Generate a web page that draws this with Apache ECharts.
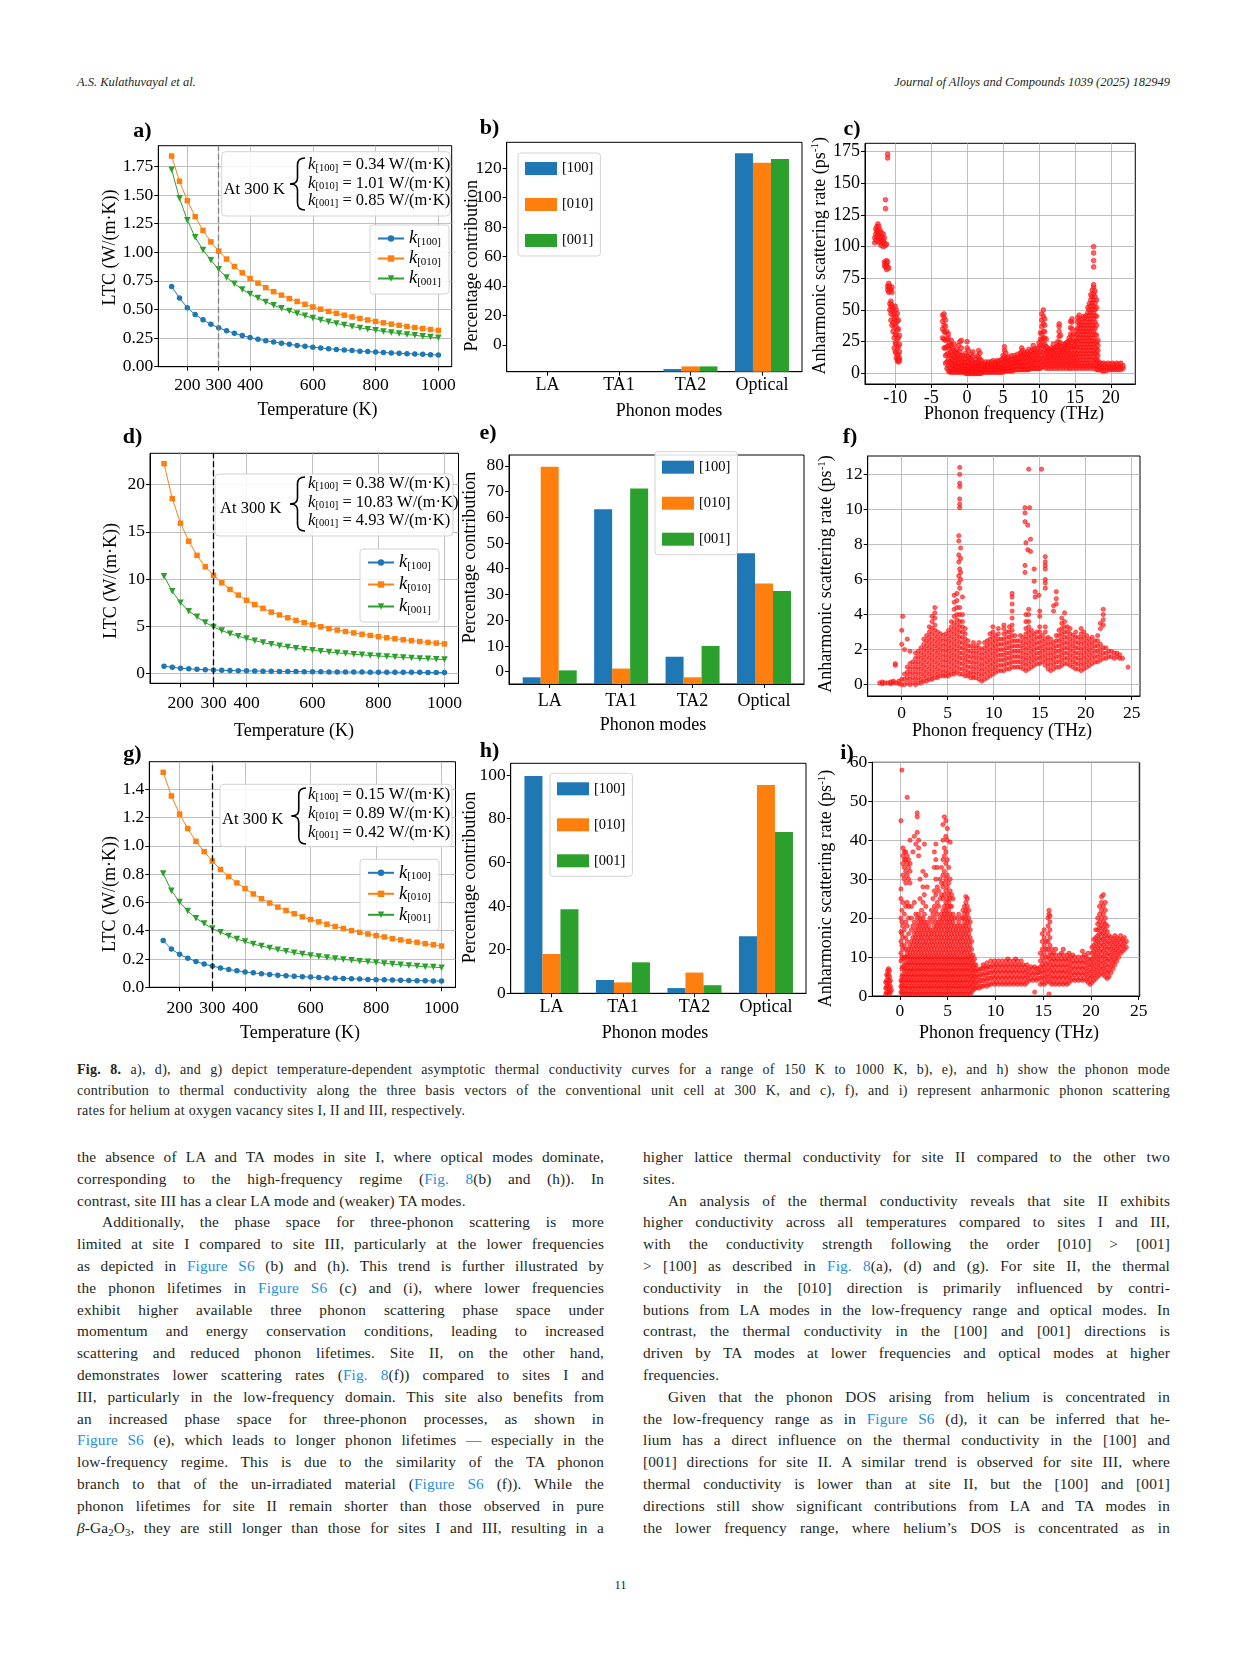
<!DOCTYPE html>
<html>
<head>
<meta charset="utf-8">
<script src="https://cdn.jsdelivr.net/npm/echarts@6/dist/echarts.min.js"></script>
<style>
html,body{margin:0;padding:0;background:#fff;}
#page{position:relative;width:1241px;height:1654px;overflow:hidden;font-family:'Liberation Serif','Times New Roman',serif;color:#231f20;}
#chart{position:absolute;left:0;top:0;width:1241px;height:1060px;}
.hdr{position:absolute;top:75px;font-style:italic;font-size:12.5px;}
.cap{position:absolute;left:77px;top:1060px;width:1093px;font-size:14px;letter-spacing:0.3px;}
.cap div{height:20.5px;line-height:20.5px;text-align:justify;text-align-last:justify;}
.col{position:absolute;top:1146px;width:527px;font-size:15.3px;letter-spacing:0.15px;}
.col div{height:21.8px;line-height:21.8px;text-align:justify;text-align-last:justify;}
.col div.last,.cap div.last{text-align-last:left;}
.col div.ind{text-indent:25px;}
a{color:#1f8fdc;text-decoration:none;}
sub{font-size:0.7em;vertical-align:-0.25em;line-height:0;}
</style>
</head>
<body>
<div id="page">
<div class="hdr" style="left:77px;">A.S. Kulathuvayal et al.</div>
<div class="hdr" style="right:71px;">Journal of Alloys and Compounds 1039 (2025) 182949</div>
<div id="chart"></div>
<div class="cap">
<div><b>Fig. 8.</b> a), d), and g) depict temperature-dependent asymptotic thermal conductivity curves for a range of 150 K to 1000 K, b), e), and h) show the phonon mode</div>
<div>contribution to thermal conductivity along the three basis vectors of the conventional unit cell at 300 K, and c), f), and i) represent anharmonic phonon scattering</div>
<div class="last">rates for helium at oxygen vacancy sites I, II and III, respectively.</div>
</div>
<div class="col" style="left:77px;">
<div>the absence of LA and TA modes in site I, where optical modes dominate,</div>
<div>corresponding to the high-frequency regime (<a>Fig. 8</a>(b) and (h)). In</div>
<div class="last">contrast, site III has a clear LA mode and (weaker) TA modes.</div>
<div class="ind">Additionally, the phase space for three-phonon scattering is more</div>
<div>limited at site I compared to site III, particularly at the lower frequencies</div>
<div>as depicted in <a>Figure S6</a> (b) and (h). This trend is further illustrated by</div>
<div>the phonon lifetimes in <a>Figure S6</a> (c) and (i), where lower frequencies</div>
<div>exhibit higher available three phonon scattering phase space under</div>
<div>momentum and energy conservation conditions, leading to increased</div>
<div>scattering and reduced phonon lifetimes. Site II, on the other hand,</div>
<div>demonstrates lower scattering rates (<a>Fig. 8</a>(f)) compared to sites I and</div>
<div>III, particularly in the low-frequency domain. This site also benefits from</div>
<div>an increased phase space for three-phonon processes, as shown in</div>
<div><a>Figure S6</a> (e), which leads to longer phonon lifetimes — especially in the</div>
<div>low-frequency regime. This is due to the similarity of the TA phonon</div>
<div>branch to that of the un-irradiated material (<a>Figure S6</a> (f)). While the</div>
<div>phonon lifetimes for site II remain shorter than those observed in pure</div>
<div><i>β</i>-Ga<sub>2</sub>O<sub>3</sub>, they are still longer than those for sites I and III, resulting in a</div>
</div>
<div class="col" style="left:643px;">
<div>higher lattice thermal conductivity for site II compared to the other two</div>
<div class="last">sites.</div>
<div class="ind">An analysis of the thermal conductivity reveals that site II exhibits</div>
<div>higher conductivity across all temperatures compared to sites I and III,</div>
<div>with the conductivity strength following the order [010] &gt; [001]</div>
<div>&gt; [100] as described in <a>Fig. 8</a>(a), (d) and (g). For site II, the thermal</div>
<div>conductivity in the [010] direction is primarily influenced by contri-</div>
<div>butions from LA modes in the low-frequency range and optical modes. In</div>
<div>contrast, the thermal conductivity in the [100] and [001] directions is</div>
<div>driven by TA modes at lower frequencies and optical modes at higher</div>
<div class="last">frequencies.</div>
<div class="ind">Given that the phonon DOS arising from helium is concentrated in</div>
<div>the low-frequency range as in <a>Figure S6</a> (d), it can be inferred that he-</div>
<div>lium has a direct influence on the thermal conductivity in the [100] and</div>
<div>[001] directions for site II. A similar trend is observed for site III, where</div>
<div>thermal conductivity is lower than at site II, but the [100] and [001]</div>
<div>directions still show significant contributions from LA and TA modes in</div>
<div>the lower frequency range, where helium’s DOS is concentrated as in</div>
</div>
<div style="position:absolute;left:0;width:1241px;top:1578px;text-align:center;font-size:12.5px;">11</div>
</div>
<script>
// ---------------- DATA ----------------
const T = [150,175,200,225,250,275,300,325,350,375,400,425,450,475,500,525,550,575,600,625,650,675,700,725,750,775,800,825,850,875,900,925,950,975,1000];
const TTicks = [200,300,400,600,800,1000];

const aK100 = [0.70,0.60,0.515,0.455,0.41,0.37,0.34,0.315,0.292,0.272,0.255,0.24,0.227,0.216,0.205,0.195,0.186,0.178,0.17,0.163,0.157,0.151,0.146,0.141,0.136,0.132,0.128,0.124,0.12,0.117,0.114,0.111,0.108,0.105,0.102];
const aK010 = [1.84,1.62,1.45,1.31,1.19,1.09,1.01,0.94,0.875,0.82,0.77,0.73,0.69,0.655,0.625,0.595,0.57,0.545,0.522,0.502,0.483,0.466,0.45,0.435,0.421,0.408,0.395,0.383,0.372,0.362,0.352,0.342,0.333,0.325,0.317];
const aK001 = [1.72,1.47,1.28,1.13,1.02,0.93,0.85,0.78,0.725,0.675,0.635,0.60,0.566,0.536,0.51,0.486,0.464,0.444,0.425,0.408,0.392,0.378,0.364,0.351,0.339,0.328,0.318,0.308,0.299,0.29,0.282,0.274,0.266,0.259,0.252];
const aYTicks = [0,0.25,0.5,0.75,1.0,1.25,1.5,1.75];
const aAt300 = ['0.34','1.01','0.85'];

const dK100 = [0.78,0.66,0.57,0.50,0.45,0.41,0.38,0.35,0.325,0.305,0.285,0.27,0.255,0.242,0.23,0.22,0.21,0.2,0.192,0.185,0.178,0.171,0.165,0.16,0.155,0.15,0.145,0.141,0.137,0.133,0.129,0.126,0.123,0.12,0.117];
const dK010 = [22.2,18.5,15.9,14.0,12.5,11.3,10.4,9.6,8.9,8.3,7.75,7.3,6.9,6.5,6.2,5.9,5.62,5.38,5.15,4.95,4.76,4.6,4.45,4.3,4.16,4.03,3.91,3.79,3.68,3.58,3.48,3.39,3.3,3.22,3.14];
const dK001 = [10.3,8.7,7.5,6.6,6.0,5.4,4.93,4.55,4.22,3.95,3.7,3.48,3.28,3.1,2.95,2.81,2.68,2.57,2.47,2.37,2.28,2.2,2.12,2.05,1.98,1.92,1.86,1.8,1.75,1.7,1.65,1.6,1.56,1.52,1.48];
const dYTicks = [0,5,10,15,20];
const dAt300 = ['0.38','10.83','4.93'];

const gK100 = [0.33,0.27,0.233,0.206,0.183,0.164,0.15,0.137,0.126,0.117,0.109,0.102,0.096,0.091,0.086,0.082,0.078,0.075,0.072,0.069,0.066,0.064,0.062,0.06,0.058,0.056,0.054,0.053,0.051,0.05,0.048,0.047,0.046,0.045,0.044];
const gK010 = [1.52,1.353,1.224,1.122,1.032,0.959,0.892,0.833,0.783,0.738,0.698,0.66,0.626,0.596,0.567,0.543,0.52,0.498,0.479,0.463,0.446,0.43,0.415,0.401,0.389,0.377,0.365,0.356,0.344,0.335,0.325,0.318,0.308,0.301,0.292];
const gK001 = [0.804,0.683,0.603,0.539,0.489,0.451,0.415,0.389,0.363,0.342,0.323,0.306,0.292,0.278,0.266,0.254,0.244,0.235,0.225,0.218,0.211,0.204,0.197,0.192,0.185,0.18,0.176,0.169,0.164,0.159,0.154,0.15,0.145,0.143,0.138];
const gYTicks = [0,0.2,0.4,0.6,0.8,1.0,1.2,1.4];
const gAt300 = ['0.15','0.89','0.42'];

const modes = ['LA','TA1','TA2','Optical'];
const dirs = ['[100]','[010]','[001]'];
// bar tops in the units of the printed axis labels
const b100 = [-18.3,-18.3,-16.5,130.0];
const b010 = [-18.3,-18.3,-14.7,123.6];
const b001 = [-18.3,-18.3,-14.7,126.1];
const bYTicks = [0,20,40,60,80,100,120];
const e100 = [-2.2,63.1,5.8,46.0];
const e010 = [79.6,1.2,-2.2,34.3];
const e001 = [0.5,71.2,10.0,31.3];
const eYTicks = [0,10,20,30,40,50,60,70,80];
const h100 = [99.6,6.1,2.4,26.2];
const h010 = [18.0,5.0,9.5,95.4];
const h001 = [38.5,14.2,3.7,73.9];
const hYTicks = [0,20,40,60,80,100];

const cXTicks = [-10,-5,0,5,10,15,20];
const cYTicks = [0,25,50,75,100,125,150,175];
const fXTicks = [0,5,10,15,20,25];
const fYTicks = [0,2,4,6,8,10,12];
const iXTicks = [0,5,10,15,20,25];
const iYTicks = [0,10,20,30,40,50,60];

// scattering rates: [frequency (THz), [rates (ps^-1) read at that frequency]]
const cCols = [
[-12.85,[103,107]],[-12.7,[105,110,114]],[-12.55,[108,112,116]],[-12.4,[104,109,113,118]],[-12.25,[107,111,116]],[-12.1,[103,108,113]],[-11.95,[101,106,111]],[-11.8,[104,108]],[-11.65,[100,105,110]],[-11.5,[103,107,85,88]],[-11.35,[101,130,137,84,87]],[-11.2,[102,82,86,89]],[-11.05,[170,173,84,88,66,69]],[-10.9,[83,64,68,71]],[-10.75,[65,69,55,50]],[-10.6,[66,53,57,47,42]],[-10.45,[64,68,50,54,38]],[-10.3,[52,46,40,33]],[-10.15,[49,43,36,28,20]],[-10.0,[53,46,39,31,24,17]],[-9.85,[50,44,37,30,23,16,12]],[-9.7,[47,41,34,27,20,14,10]],[-9.55,[42,35,28,21,15,11,9]],[-9.4,[30,23,17,12,10]],
[-3.4,[28,35,41,46]],[-3.2,[20,27,33,38,44,47]],[-3.0,[8,14,20,26,32,37,42]],[-2.8,[4,9,15,21,27,33]],[-2.6,[2,6,11,16,22,28,31]],[-2.4,[1,5,9,14,19,24]],[-2.2,[1,4,8,12,17,22,26]],[-2.0,[1,4,7,11,15,20]],[-1.8,[1,3,6,10,14,18,23]],[-1.6,[1,3,6,9,13,17]],[-1.4,[1,3,5,8,12,16,19]],[-1.2,[1,3,5,8,11,15,22]],[-1.0,[1,3,5,8,12,17,25]],[-0.8,[1,3,6,9,14,20,26]],[-0.6,[1,2,4,7,10,14]],[-0.4,[1,2,4,6,9,13]],[-0.2,[0,2,4,6,9,12,16]],
[0.0,[0,2,4,6,9,14,20,25]],[0.2,[0,2,4,6,9,13,18]],[0.4,[0,2,4,6,8,12]],[0.6,[0,2,4,6,8,11,15]],[0.8,[0,2,4,6,9,13,17]],[1.0,[0,2,4,6,8]],[1.2,[0,2,4,6,8,11]],[1.4,[0,2,4,6,9,14]],[1.6,[0,2,4,6,9,13,18]],[1.8,[0,2,4,6,8,11,16]],[2.0,[0,2,4,6,8,10]],[2.2,[1,2,4,6,8]],[2.4,[1,3,5,7]],[2.6,[1,3,5,7,9]],[2.8,[1,3,5,7]],[3.0,[1,3,5,7,9]],[3.2,[1,3,5,8]],[3.4,[1,3,5,7,9]],[3.6,[1,3,5,7,10]],[3.8,[1,3,5,8]],[4.0,[1,3,5,7,9]],[4.2,[1,3,5,8,10]],[4.4,[1,3,5,7,9]],[4.6,[1,3,5,7,10]],[4.8,[1,3,5,8,11]],
[5.0,[1,3,5,7,10,14]],[5.2,[2,4,6,9,13,18,21]],[5.4,[2,4,6,9,12,16]],[5.6,[2,4,6,9,12]],[5.8,[2,4,7,10,13]],[6.0,[2,4,7,10]],[6.2,[2,5,8,11,14]],[6.4,[2,5,8,11]],[6.6,[3,5,8,11,14]],[6.8,[3,6,9,12]],[7.0,[3,6,9,12,15]],[7.2,[3,6,9,13]],[7.4,[3,6,9,12,16]],[7.6,[3,6,9,13,17,20]],[7.8,[3,6,10,14,18]],[8.0,[3,6,9,13,16]],[8.2,[3,6,9,12,15]],[8.4,[3,6,10,14,17]],[8.6,[3,7,11,15,19]],[8.8,[4,7,11,15]],[9.0,[4,7,10,14,18]],[9.2,[4,7,11,15,19,22]],[9.4,[4,8,12,16,19]],[9.6,[4,8,12,16]],[9.8,[4,8,12,16,20]],
[10.0,[4,8,12,16,20,24]],[10.2,[4,8,12,17,22,27,32]],[10.4,[5,9,14,20,26,31,37,42,47]],[10.6,[7,11.5,16.5,22,27.5,33,39,45,50]],[10.8,[5,9,13,18,23,28,33,38,43]],[11.0,[4,8,12,16,21,27]],[11.2,[6,10,14,18,20]],[11.4,[4,8,12,15,19]],[11.6,[6,10,14,18]],[11.8,[4,8,12,16,20]],[12.0,[6,10,14,17,19,23]],[12.2,[4,8,12,16,20]],[12.4,[6,10,14,18,21]],[12.6,[4,8,12,16,21,25]],[12.8,[6,10,14,18,22,24,29,33,37,39]],[13.0,[4,8,12,16,20,24,30]],[13.2,[6,10,14,18,21]],[13.4,[4,8,12,16,19]],[13.6,[6,10,14,18,22,23]],[13.8,[4,8,12,16,20,24]],[14.0,[6,10,14,18,22,25]],[14.2,[4,8,12,16,20,24,28]],[14.4,[4,8,12,16,21,26,31,36,41]],[14.6,[6,10,14.5,19.5,24.5,29.5,35,40.5,43]],[14.8,[4,8,12,16,21,26,31]],
[15.0,[6,10,14,18,22,25]],[15.2,[4,8,12,16,21,26,30,34]],[15.4,[6,10.5,15.5,20.5,25.5,30.5,35.5,40.5,44]],[15.6,[4,8,13,18,23,28,33,38,42,46]],[15.8,[6,10.5,15.5,20.5,25.5,30.5,35.5,39]],[16.0,[4,8,13,18,23,28,33,38,43]],[16.2,[6,10.5,15.5,20.5,25.5,30.5,35.5,40.5,45]],[16.4,[4,8,13,18,23,28,33,38,44]],[16.6,[6,10.5,15.5,20.5,25.5,30.5,35.5,40.5,45.5]],[16.8,[4,8,13,18,23,28,33,38,43,48,52]],[17.0,[6,10.5,15.5,20.5,25.5,30.5,35.5,40.5,45.5,50.5,55]],[17.2,[4,8,13,18,23,28,33,38,43,48,53,58,62]],[17.4,[6,10.5,15.5,20.5,25.5,30.5,35.5,40.5,45.5,50.5,55.5,60.5,65.5]],[17.6,[4,8,13,18,23,28,33,38,43,48,53,58,63,68,70,84,89,95,100]],[17.8,[6,10.5,15.5,20.5,25.5,30.5,35.5,40.5,45.5,50.5,55.5,60.5,65]],[18.0,[3,7,11,15,19,24,30,38,45,52,58]],[18.2,[3,6,10,14,18,22,26]],
[18.4,[3,5,8]],[18.6,[3,5,8]],[18.8,[2,5,7]],[19.0,[2,5,8]],[19.3,[2,5,7]],[19.6,[3,5,8]],[19.9,[3,5,7]],[20.2,[3,5,8]],[20.5,[3,5,7]],[20.8,[3,6,8]],[21.1,[3,5,7]],[21.4,[3,5,8]],[21.7,[4,6]]
];

const fCols = [
[-2.4,[0.1]],[-2.1,[0.05,0.15]],[-1.8,[0.1]],[-1.5,[0.1]],[-1.2,[0.05,0.15]],[-0.9,[0.1,0.2]],[-0.7,[1.1,1.2]],[-0.6,[0.1]],[-0.3,[0.05,0.2]],
[0.0,[0.0,0.3,3.1,2.3]],[0.1,[3.9]],[0.3,[0.0,0.3,0.6,2.0]],[0.6,[0.1,0.4,0.7,1.0,2.6]],[0.9,[0.0,0.3,0.6,0.9,1.2,1.9]],[1.2,[0.1,0.4,0.7,1.0,1.3]],[1.5,[0.0,0.3,0.6,0.9,1.2,1.5,1.8]],[1.8,[0.1,0.4,0.7,1.0,1.3,1.6,1.9]],[2.1,[0.1,0.3,0.6,0.9,1.2,1.5,1.8,2.1]],[2.4,[0.2,0.5,0.8,1.1,1.4,1.7,2.0,2.3,2.6]],[2.7,[0.2,0.4,0.7,1.0,1.3,1.6,1.9,2.2,2.5,2.8]],
[3.0,[0.3,0.6,0.9,1.2,1.5,1.8,2.1,2.4,2.7,3.0,3.3]],[3.3,[0.3,0.5,0.8,1.1,1.4,1.7,2.0,2.3,2.6,2.9,3.2,3.6,3.9]],[3.6,[0.4,0.7,1.0,1.3,1.6,1.9,2.2,2.5,2.8,3.1,3.4,3.8,4.1,4.4]],[3.9,[0.4,0.6,0.9,1.2,1.5,1.8,2.1,2.4,2.7,3.0]],[4.2,[0.5,0.8,1.1,1.4,1.7,2.0,2.3,2.6,2.9]],[4.5,[0.5,0.7,1.0,1.3,1.6,1.9,2.2,2.5,2.8]],[4.8,[0.5,0.8,1.1,1.4,1.7,2.0,2.3,2.6,2.9]],
[5.1,[0.5,0.7,1.0,1.3,1.6,1.9,2.2,2.5,2.8,3.1]],[5.4,[0.6,0.9,1.2,1.5,1.8,2.1,2.4,2.7,3.0,3.3,3.6]],[5.7,[0.6,0.8,1.1,1.4,1.7,2.0,2.3,2.6,2.9,3.2,3.5,3.9,4.3,4.7,5.1]],[6.0,[0.7,1.0,1.3,1.6,1.9,2.2,2.5,2.8,3.1,3.4,3.7,4.0,4.4,4.8,5.2]],[6.2,[5.8,6.2,7.0,7.4,8.2,8.5]],[6.3,[0.6,0.9,1.2,1.5,1.8,2.1,2.4,2.7,3.0,3.3,3.6,4.0,4.4,5.5,6.6,10.1,10.3,10.6,11.3,11.5,12.0,12.4]],[6.4,[6.0,6.4,7.2,7.8]],[6.6,[0.6,0.9,1.2,1.5,1.8,2.1,2.4,2.7,3.0,3.3,3.6,4.0,5.0]],[6.9,[0.5,0.8,1.1,1.4,1.7,2.0,2.3,2.6,2.9,3.2]],
[7.2,[0.5,0.7,1.0,1.3,1.6,1.9,2.2,2.5]],[7.5,[0.4,0.7,1.0,1.3,1.6,1.9,2.2]],[7.8,[0.4,0.6,0.9,1.2,1.5,1.8,2.1,2.4]],[8.1,[0.4,0.7,1.0,1.3,1.6,1.9,2.2]],[8.4,[0.3,0.6,0.9,1.2,1.5,1.8,2.1,2.4]],[8.7,[0.2,0.5,0.8,1.1,1.4,1.7,2.0]],[9.0,[0.3,0.6,0.9,1.2,1.5,1.8,2.1,2.4]],[9.3,[0.4,0.7,1.0,1.3,1.6,1.9,2.2,2.5]],[9.6,[0.5,0.8,1.1,1.4,1.7,2.0,2.3,2.6,2.9]],[9.9,[0.6,0.9,1.2,1.5,1.8,2.1,2.4,2.7,3.0,3.3]],
[10.2,[0.7,1.0,1.3,1.6,1.9,2.2,2.5,2.8]],[10.5,[0.8,1.1,1.4,1.7,2.0,2.3,2.6,2.9,3.2]],[10.8,[0.8,1.1,1.4,1.7,2.0,2.3,2.6]],[11.1,[0.8,1.1,1.4,1.7,2.0,2.3,2.6,2.9,3.2,3.4]],[11.4,[0.9,1.2,1.5,1.8,2.1,2.4,2.7,3.0]],[11.7,[0.9,1.2,1.5,1.8,2.1,2.4,2.7,3.0,3.3]],[12.0,[1.0,1.3,1.6,1.9,2.2,2.5,2.8,3.1,3.4,3.8,4.2,4.6,5.0,5.2]],[12.3,[1.0,1.3,1.6,1.9,2.2,2.5,2.8]],[12.6,[1.0,1.3,1.6,1.9,2.2,2.5]],[12.9,[1.0,1.3,1.6,1.9,2.2,2.5,2.8]],
[13.2,[0.9,1.2,1.5,1.8,2.1,2.4,2.7]],[13.4,[6.4,6.8,9.3,9.8,10.1]],[13.5,[0.8,1.1,1.4,1.7,2.0,2.3,2.6,2.9,3.2,3.6,4.0,8.1]],[13.7,[7.7,9.1]],[13.8,[0.9,1.2,1.5,1.8,2.1,2.4,2.7,3.0,3.3,3.6,4.0,4.3,12.3]],[13.9,[10.1]],[14.0,[7.6,8.3]],[14.1,[1.0,1.3,1.6,1.9,2.2,2.5,2.8,3.1]],[14.4,[1.1,1.4,1.7,2.0,2.3,2.6,2.9,5.9,6.6]],[14.5,[5.0,5.3]],[14.7,[1.2,1.5,1.8,2.1,2.4,2.7,3.0]],[14.9,[5.1]],
[15.0,[1.2,1.5,1.8,2.1,2.4,2.7,3.0,3.3,3.9,4.2]],[15.2,[12.3]],[15.3,[1.3,1.6,1.9,2.2,2.5,2.8]],[15.6,[1.1,1.4,1.7,2.0,2.3,2.6,3.0,3.3,5.5,5.8,6.0,6.6,6.8,7.0,7.3]],[15.9,[0.9,1.2,1.5,1.8,2.1,2.4,2.7]],[16.2,[0.8,1.1,1.4,1.7,2.0,2.3,2.6]],[16.5,[0.9,1.2,1.5,1.8,2.1,2.4,4.2,4.5]],[16.8,[1.0,1.3,1.6,1.9,2.2,2.5,2.8,4.6,4.9,5.3]],
[17.1,[1.0,1.3,1.6,1.9,2.2,2.5,2.8,3.1]],[17.4,[1.1,1.4,1.7,2.0,2.3,2.6,2.9,3.2,3.5,3.8]],[17.7,[1.2,1.5,1.8,2.1,2.4,2.7,3.0,3.3,3.6,4.1]],[18.0,[1.2,1.5,1.8,2.1,2.4,2.7,3.0,3.3]],[18.3,[1.1,1.4,1.7,2.0,2.3,2.6,2.9,3.2]],[18.6,[1.0,1.3,1.6,1.9,2.2,2.5,2.8]],[18.9,[0.9,1.2,1.5,1.8,2.1,2.4,2.7,3.0]],[19.2,[0.9,1.2,1.5,1.8,2.1,2.4,2.7]],[19.5,[0.8,1.1,1.4,1.7,2.0,2.3,2.6,2.9,3.2]],[19.8,[0.9,1.2,1.5,1.8,2.1,2.4,2.7,3.0]],
[20.1,[1.0,1.3,1.6,1.9,2.2,2.5,2.8]],[20.4,[1.1,1.4,1.7,2.0,2.3,2.6]],[20.7,[1.2,1.5,1.8,2.1,2.4,2.7]],[21.0,[1.3,1.6,1.9,2.2,2.5]],[21.3,[1.3,1.6,1.9,2.2,2.5,2.8]],[21.6,[1.4,1.7,2.0,2.3,3.2,3.5]],[21.9,[1.5,1.8,2.1,3.4,3.7,4.0,4.3]],[22.2,[1.5,1.8,2.1]],[22.5,[1.6,1.9]],[22.8,[1.6,1.9]],[23.1,[1.5,1.8]],[23.4,[1.6,1.8]],[23.7,[1.5,1.7]],[24.0,[1.5]],[24.6,[1.0]]
];

const iCols = [
[-1.5,[0.5,2,3.5]],[-1.4,[1,2.5,4,5.5]],[-1.3,[0.5,2,3.5,5,6.5]],[-1.2,[1,2.5,4,5.5,7]],[-1.1,[0.5,2,3.5,5,6.5]],[-1.0,[1,2.5,4]],[-0.9,[1.5]],
[0.1,[1,2.5,4,9,11,14,16.5,20,25,27.5,45]],[0.2,[0.5,2,3.5,5,7,10,13,16,19,22,58]],[0.3,[1,2.5,4,5.5,7.5,9.5,12,15,18,24,31,34,36,38]],[0.45,[0.5,2,3.5,5,6.5,8,10,13,17,21,30,33,35,37]],[0.6,[1,2.5,4,5.5,7,8.5,10,12,15,19,23,29,32,35,37]],[0.75,[0.5,2,3.5,5,6.5,8,9.5,11,14,18,24,31,34,36,51]],[0.9,[1,2.5,4,5.5,7,8.5,10,12,16,20,23,30,33,35]],
[1.05,[0.5,2,3.5,5,6.5,8,9.5,11,13,29,32,34,40]],[1.2,[1,2.5,4,5.5,7,8.5,10,12,14,17,20,23]],[1.35,[0.5,2,3.5,5,6.5,8,9.5,11,13,15,18,37]],[1.5,[1,2.5,4,5.5,7,8.5,10,12,14,16,19,24,41]],[1.65,[0.5,2,3.5,5,6.5,8,9.5,11,13,15,17,21,39]],[1.8,[1,2.5,4,5.5,7,8.5,10,12,14,16,18,20,42,46,47]],[1.95,[0.5,2,3.5,5,6.5,8,9.5,11,13,15,17,19,21,36,38,40]],
[2.1,[1,2.5,4,5.5,7,8.5,10,12,14,16,18,20,25,30]],[2.25,[0.5,2,3.5,5,6.5,8,9.5,11,13,15,17,19,22]],[2.4,[1,2.5,4,5.5,7,8.5,10,12,14,16,18,20,24,28,32]],[2.55,[0.5,2,3.5,5,6.5,8,9.5,11,13,15,17,19,21,26,39]],[2.7,[1,2.5,4,5.5,7,8.5,10,12,14,16,18,23,31]],[2.85,[0.5,2,3.5,5,6.5,8,9.5,11,13,15,17,19,28]],
[3.0,[1,2.5,4,5.5,7,8.5,10,12,14,16,18]],[3.15,[0.5,2,3.5,5,6.5,8,9.5,11,13,15,17,20]],[3.3,[1,2.5,4,5.5,7,8.5,10,12,14,16,19,22]],[3.45,[0.5,2,3.5,5,6.5,8,9.5,11,13,15,17,21,25]],[3.6,[1,2.5,4,5.5,7,8.5,10,12,14,16,18,20,23,27,33,37]],[3.75,[0.5,2,3.5,5,6.5,8,9.5,11,13,15,17,19,22,26,30,35,39]],[3.9,[1,2.5,4,5.5,7,8.5,10,12,14,16,18,21,24,28,33]],
[4.05,[0.5,2,3.5,5,6.5,8,9.5,11,13,15,17,19,23,27]],[4.2,[1,2.5,4,5.5,7,8.5,10,12,14,16,18,20,25,30]],[4.35,[0.5,2,3.5,5,6.5,8,9.5,11,13,15,17,19,21,26,29,33]],[4.5,[1,2.5,4,5.5,7,8.5,10,12,14,16,18,20,22,25,28,31,35,40,44]],[4.65,[0.5,2,3.5,5,6.5,8,9.5,11,13,15,17,19,21,23,26,29,32,36,38,46]],[4.8,[1,2.5,4,5.5,7,8.5,10,12,14,16,18,20,22,24,27,30,34,37,41,45]],[4.95,[0.5,2,3.5,5,6.5,8,9.5,11,13,15,17,19,21,23,25,28,31,35,40,43]],
[5.1,[1,2.5,4,5.5,7,8.5,10,12,14,16,18,20,22,24,26,29,33]],[5.25,[0.5,2,3.5,5,6.5,8,9.5,11,13,15,17,19,21,23,25,27,30,39.5]],[5.4,[1,2.5,4,5.5,7,8.5,10,12,14,16,18,20,23,26]],[5.55,[0.5,2,3.5,5,6.5,8,9.5,11,13,15,17,19,21,25]],[5.7,[1,2.5,4,5.5,7,8.5,10,12,14,16,18,20]],[5.85,[0.5,2,3.5,5,6.5,8,9.5,11,13,15,17]],
[6.0,[1,2.5,4,5.5,7,8.5,10,12,14,16,18,20]],[6.15,[0.5,2,3.5,5,6.5,8,9.5,11,13,15,17,19,21]],[6.3,[1,2.5,4,5.5,7,8.5,10,12,14,16,18]],[6.45,[0.5,2,3.5,5,6.5,8,9.5,11,13,15,17,20]],[6.6,[1,2.5,4,5.5,7,8.5,10,12,14,16,18,20,22]],[6.75,[0.5,2,3.5,5,6.5,8,9.5,11,13,15,17,19,21,23]],[6.9,[1,2.5,4,5.5,7,8.5,10,12,14,16,18,20,22,24,25.5]],
[7.05,[0.5,2,3.5,5,6.5,8,9.5,11,13,15,17,19,21,23,25]],[7.2,[1,2.5,4,5.5,7,8.5,10,12,14,16,18,20,22]],[7.35,[0.5,2,3.5,5,6.5,8,9.5,11,13,15,17,19]],[7.5,[1,2.5,4,5.5,7,8.5,10,12,14]],[7.65,[1.5,3,4.5,6,7.5,9,10.5]],[7.8,[2,3.5,5,6.5,8,9.5]],[7.95,[2,3.5,5,6.5,8]],
[8.1,[2.5,4,5.5,7]],[8.3,[2,3.5,5,6.5]],[8.5,[2.5,4,5.5,7]],[8.7,[2.5,4,5.5,7,8]],[8.9,[3,4.5,6,7.5]],[9.1,[2.5,4,5.5,7,8.5]],[9.3,[3,4.5,6,7.5]],[9.5,[3,4.5,6,7.5,9]],[9.7,[3.5,5,6.5,8]],[9.9,[3,4.5,6,7.5,9]],
[10.1,[3.5,5,6.5,8]],[10.3,[3,4.5,6,7.5,9]],[10.5,[3.5,5,6.5,8]],[10.7,[3,4.5,6,7.5,9]],[10.9,[3.5,5,6.5,8]],[11.1,[3,4.5,6,7.5,9]],[11.3,[3.5,5,6.5,8,9.5]],[11.5,[3,4.5,6,7.5,9]],[11.7,[3.5,5,6.5,8]],[11.9,[3,4.5,6,7.5,9]],
[12.1,[3.5,5,6.5,8,9.5]],[12.3,[3,4.5,6,7.5,9]],[12.5,[3.5,5,6.5,8]],[12.7,[3,4.5,6,7.5,9]],[12.9,[3.5,5,6.5,8]],[13.1,[3,4.5,6,7.5]],[13.3,[3.5,5,6.5,8]],[13.5,[4,5.5,7]],[13.7,[4.5,6,7.5]],[13.9,[4,5.5,7]],
[14.1,[1,4.5,6,7.5]],[14.3,[4,5.5,7]],[14.5,[4.5,6,7]],[14.7,[3,4.5,6,7.5,9,11]],[14.9,[3.5,5,6.5,8,10,12,14,16]],[15.1,[3,4.5,6,7.5,9,11,13,15,17]],[15.3,[3.5,5,6.5,8,10,12,14]],[15.5,[4,5.5,7,8.5,10,12,14,16,18,20]],[15.6,[0.5,21,22]],[15.7,[3.5,5,6.5,8,9.5,11,13,15,17,19,20.5]],[15.9,[3,4.5,6,7.5,9,10.5,12]],
[16.1,[3.5,5,6.5,8,9.5,11]],[16.3,[3,4.5,6,7.5,9,10.5,12]],[16.5,[3.5,5,6.5,8,9.5]],[16.7,[3,4.5,6,7.5,9,10.5]],[16.9,[3.5,5,6.5,8,9.5,11]],[17.1,[3,4.5,6,7.5,9,10.5,12]],[17.3,[3.5,5,6.5,8,9.5]],[17.5,[3,4.5,6,7.5,9,10.5]],[17.7,[3.5,5,6.5,8,9.5,11]],[17.9,[4,5.5,7,8.5,10]],
[18.1,[4.5,6,7.5,9,10.5]],[18.3,[4,5.5,7,8.5,10]],[18.5,[4.5,6,7.5,9]],[18.7,[4,5.5,7,8.5,10]],[18.9,[4.5,6,7.5,9]],[19.1,[4,5.5,7,8.5,10,11.5]],[19.3,[4.5,6,7.5,9,10.5]],[19.5,[4,5.5,7,8.5,10]],[19.7,[3.5,5,6.5,8,9.5,11]],[19.9,[3,4.5,6,7.5,9]],
[20.1,[3.5,5,6.5,8,9.5,11,12.5]],[20.3,[4,5.5,7,8.5,10,11.5,13,14.5]],[20.5,[4.5,6,7.5,9,10.5,12,13.5,15,17]],[20.7,[5,6.5,8,9.5,11,12.5,14,15.5,17,18.5,20]],[20.9,[5.5,7,8.5,10,11.5,13,14.5,16,17.5,19,21,23]],[21.1,[6,7.5,9,10.5,12,13.5,15,16.5,18,20,22,24,25.5]],[21.3,[5.5,7,8.5,10,11.5,13,14.5,16,17.5,19,21,23,26]],[21.5,[5,6.5,8,9.5,11,12.5,14,15.5,17,18.5,20,22,24]],[21.7,[4.5,6,7.5,9,10.5,12,13.5,15,16.5,18]],[21.9,[5,6.5,8,9.5,11,12.5,14,15.5]],
[22.1,[6,7.5,9,10.5,12,13.5,15]],[22.3,[7,8.5,10,11.5,13,14.5]],[22.5,[8,9.5,11,12.5,14,15.5]],[22.7,[9,10.5,12,13.5,15]],[22.9,[10,11.5,13,14.5]],[23.1,[11,12.5,14,15.5]],[23.3,[11.5,13,14.5]],[23.5,[12,13.5,15]],[23.7,[12.5,14]]
];

// ---------------- LAYOUT / STYLE ----------------
const FF = "'Liberation Serif','Times New Roman',serif";
const C1 = '#1f77b4', C2 = '#ff7f0e', C3 = '#2ca02c', GRIDC = '#b0b0b0';
const boxes = {
  a:{left:158.3, top:145.7, width:293.4, height:221},
  b:{left:506.7, top:142.3, width:295.3, height:229.4},
  c:{left:865, top:143.3, width:270.3, height:240.7},
  d:{left:150, top:453.3, width:308.5, height:230},
  e:{left:509, top:455, width:295, height:229},
  f:{left:867.7, top:456, width:272.3, height:240},
  g:{left:149.3, top:761.7, width:306.2, height:225.6},
  h:{left:510.7, top:763.3, width:295.3, height:230},
  i:{left:872.3, top:762.3, width:267.4, height:233.7}
};

const option = {animation:false, grid:[], xAxis:[], yAxis:[], series:[], legend:[], graphic:[]};

function addGrid(k){
  option.grid.push(Object.assign({show:true, borderColor:'#000', borderWidth:1, backgroundColor:'rgba(0,0,0,0)'}, boxes[k]));
  return option.grid.length - 1;
}
function axis(gi, type, min, max, ticks, fmt, margin, fs, split){
  return {
    type:'value', gridIndex:gi, min:min, max:max,
    axisLine:{show:true, onZero:false, lineStyle:{color:'#000', width:1}},
    axisTick:{show:true, length:4, inside:false, customValues:ticks, lineStyle:{color:'#000', width:1}},
    axisLabel:{show:true, customValues:ticks, formatter:fmt, margin:margin, color:'#000', fontFamily:FF, fontSize:fs},
    splitLine:{show:!!split, lineStyle:{color:GRIDC, width:0.8}}
  };
}
function txt(x, y, text, fs, extraStyle, rot){
  return {type:'text', x:x, y:y, rotation:rot||0, z:100, silent:true,
    style:Object.assign({text:text, fontFamily:FF, fontSize:fs, fill:'#000', align:'center', verticalAlign:'middle'}, extraStyle||{})};
}
function seg(x1, y1, x2, y2){
  return {type:'line', z:95, silent:true, shape:{x1:x1, y1:y1, x2:x2, y2:y2}, style:{stroke:'#000', lineWidth:1.6}};
}
function curve(x1, y1, cx, cy, x2, y2){
  return {type:'bezierCurve', z:95, silent:true, shape:{x1:x1, y1:y1, x2:x2, y2:y2, cpx1:cx, cpy1:cy}, style:{stroke:'#000', fill:null, lineWidth:1.6}};
}

function lineChart(k, ymin, ymax, yTicks, yFmt, k100, k010, k001, dashColor, xMargin, legendBox, annot, vals){
  const gi = addGrid(k);
  option.xAxis.push(axis(gi, 'value', 107.5, 1042.5, TTicks, v => String(v), xMargin, 17.5, true));
  option.yAxis.push(axis(gi, 'value', ymin, ymax, yTicks, yFmt, 5, 17.5, true));
  const xi = option.xAxis.length - 1, yi = option.yAxis.length - 1;
  const mk = (name, arr, color, symbol, size, rot) => ({
    type:'line', name:name, xAxisIndex:xi, yAxisIndex:yi, data:T.map((t, j) => [t, arr[j]]),
    symbol:symbol, symbolSize:size, symbolRotate:rot||0, showSymbol:true,
    lineStyle:{width:1, color:color}, itemStyle:{color:color}, emphasis:{disabled:true}, z:3
  });
  const s1 = mk('k100', k100, C1, 'circle', 5.5);
  s1.markLine = {silent:true, symbol:['none','none'], label:{show:false}, animation:false,
    lineStyle:{type:[6,3], color:dashColor, width:1.3}, data:[{xAxis:300}]};
  option.series.push(s1, mk('k010', k010, C2, 'rect', 5.5), mk('k001', k001, C3, 'triangle', 6.5, 180));
  option.legend.push({
    orient:'vertical', left:legendBox[0], top:legendBox[1], itemGap:legendBox[2], padding:[4,8,6,7],
    itemWidth:26, itemHeight:8, selectedMode:false,
    backgroundColor:'rgba(255,255,255,0.85)', borderColor:'#d3d3d3', borderWidth:1, borderRadius:3,
    data:['k100','k010','k001'],
    formatter: n => '{k|k}{s|[' + n.slice(1) + ']}',
    textStyle:{rich:{
      k:{fontFamily:FF, fontStyle:'italic', fontSize:18.5, lineHeight:18, verticalAlign:'middle', color:'#000'},
      s:{fontFamily:FF, fontSize:11, lineHeight:8, verticalAlign:'bottom', color:'#000'}
    }}
  });
  // "At 300 K" annotation box
  const b = annot;
  const bx0 = b.brace[0], by0 = b.brace[1], bx1 = b.brace[2], by1 = b.brace[3];
  const bm = (by0 + by1) / 2, bc = (bx0 + bx1) / 2;
  option.graphic.push(
    {type:'rect', z:90, silent:true, shape:{x:b.box[0], y:b.box[1], width:b.box[2], height:b.box[3], r:4},
      style:{fill:'rgba(255,255,255,0.85)', stroke:'#d3d3d3', lineWidth:1}},
    txt(b.at[0], b.at[1], 'At 300 K', 16.5, {align:'left'}),
    curve(bx1, by0, bc, by0, bc, by0 + 7), seg(bc, by0 + 7, bc, bm - 6), curve(bc, bm - 6, bc, bm, bx0, bm),
    curve(bx0, bm, bc, bm, bc, bm + 6), seg(bc, bm + 6, bc, by1 - 7), curve(bc, by1 - 7, bc, by1, bx1, by1)
  );
  dirs.forEach((d, j) => {
    option.graphic.push({type:'text', x:b.kx, y:b.ky[j], z:100, silent:true, style:{
      text:'{k|k}{s|' + d + '}{t| = ' + vals[j] + ' W/(m·K)}',
      align:'left', verticalAlign:'middle',
      rich:{
        k:{fontFamily:FF, fontStyle:'italic', fontSize:17, lineHeight:17, verticalAlign:'middle', fill:'#000'},
        s:{fontFamily:FF, fontSize:10.5, lineHeight:8, verticalAlign:'bottom', fill:'#000'},
        t:{fontFamily:FF, fontSize:16.5, lineHeight:17, verticalAlign:'middle', fill:'#000'}
      }}});
  });
}

function barChart(k, visMin, visMax, yTicks, v100, v010, v001, legPos, xMargin){
  const gi = addGrid(k);
  option.xAxis.push(axis(gi, 'value', -0.57, 3.56, [0,1,2,3], v => modes[v] || '', xMargin, 18, false));
  option.yAxis.push(axis(gi, 'value', visMin, visMax, yTicks, v => String(v), 5, 17.5, false));
  option.yAxis.push({type:'value', gridIndex:gi, min:0, max:visMax - visMin, show:false});
  const xi = option.xAxis.length - 1, yi = option.yAxis.length - 1;
  [[v100, C1], [v010, C2], [v001, C3]].forEach((p, j) => {
    option.series.push({type:'bar', name:dirs[j], xAxisIndex:xi, yAxisIndex:yi,
      data:p[0].map((v, m) => [m, v - visMin]), barWidth:18, barGap:'0%',
      itemStyle:{color:p[1]}, emphasis:{disabled:true}});
  });
  option.legend.push({orient:'vertical', left:legPos[0], top:legPos[1], itemGap:21, padding:[8,7,8,7],
    itemWidth:32, itemHeight:13, icon:'rect', selectedMode:false,
    backgroundColor:'rgba(255,255,255,0.85)', borderColor:'#d3d3d3', borderWidth:1, borderRadius:3,
    data:dirs, textStyle:{fontFamily:FF, fontSize:14.5, lineHeight:14, color:'#000'}});
}

function flat(cols){ const out = []; cols.forEach(c => c[1].forEach(y => out.push([c[0], y]))); return out; }

function scatterChart(k, xmin, xmax, xTicks, ymin, ymax, yTicks, cols, xMargin, fs, size){
  const gi = addGrid(k);
  option.xAxis.push(axis(gi, 'value', xmin, xmax, xTicks, v => String(v), xMargin, fs, true));
  option.yAxis.push(axis(gi, 'value', ymin, ymax, yTicks, v => String(v), 5, fs, true));
  option.series.push({type:'scatter', name:'rate' + k, xAxisIndex:option.xAxis.length - 1, yAxisIndex:option.yAxis.length - 1,
    data:flat(cols), symbol:'circle', symbolSize:size,
    itemStyle:{color:'rgba(255,40,40,0.9)', borderColor:'#ff0000', borderWidth:0.6}, emphasis:{disabled:true}});
}

// ---------------- BUILD ----------------
lineChart('a', 0, 1.93, aYTicks, v => v.toFixed(2), aK100, aK010, aK001, '#808080', 10,
  [370, 225, 1], {box:[221.7,151.7,228.5,64.3], at:[223.5,190], brace:[290,158,305,210], kx:308, ky:[165,183.3,200.7]}, aAt300);
barChart('b', -18.3, 137.5, bYTicks, b100, b010, b001, [518, 153], 5);
scatterChart('c', -14.2, 23.4, cXTicks, -8.4, 181.6, cYTicks, cCols, 5, 18, 4.8);

lineChart('d', -1.03, 23.3, dYTicks, v => String(v), dK100, dK010, dK001, '#000', 11,
  [360, 549, 3], {box:[215,474,238,62], at:[220,508.3], brace:[290,477,305,531], kx:308, ky:[483.3,502.3,520.7]}, dAt300);
barChart('e', -4.8, 84.2, eYTicks, e100, e010, e001, [655, 451.7], 8);
scatterChart('f', -3.7, 25.9, fXTicks, -0.65, 13.05, fYTicks, fCols, 8, 17.5, 4.3);

lineChart('g', 0, 1.595, gYTicks, v => v.toFixed(1), gK100, gK010, gK001, '#000', 12,
  [360, 859.3, 2], {box:[220,784.3,232,62.4], at:[222,819.3], brace:[291.5,788,306,844], kx:308, ky:[794.3,813.3,832.3]}, gAt300);
barChart('h', 0, 105.4, hYTicks, h100, h010, h001, [550, 773.3], 5);
scatterChart('i', -2.9, 25.1, iXTicks, 0, 60, iYTicks, iCols, 6, 17.5, 4.3);

// axis titles and panel letters
const rate = '{t|Anharmonic scattering rate (ps}{u|-1}{t|)}';
const rateRich = {t:{fontFamily:FF, fontSize:18, lineHeight:20, verticalAlign:'middle', fill:'#000'},
                  u:{fontFamily:FF, fontSize:11, lineHeight:12, verticalAlign:'top', fill:'#000'}};
const R = Math.PI / 2;
[
  [317.5,410,'Temperature (K)'],[669,411.7,'Phonon modes'],[1014,414,'Phonon frequency (THz)'],
  [294,731.7,'Temperature (K)'],[653,725,'Phonon modes'],[1002,731.7,'Phonon frequency (THz)'],
  [300,1033,'Temperature (K)'],[655,1033,'Phonon modes'],[1009,1033,'Phonon frequency (THz)']
].forEach(p => option.graphic.push(txt(p[0], p[1], p[2], 18)));
[
  [110.7,247.5,'LTC (W/(m·K))'],[472,265.8,'Percentage contribution'],
  [111.7,580.8,'LTC (W/(m·K))'],[470,557.5,'Percentage contribution'],
  [110.7,894,'LTC (W/(m·K))'],[470,877.5,'Percentage contribution']
].forEach(p => option.graphic.push(txt(p[0], p[1], p[2], 18, null, R)));
[[820,255.8],[826.7,574],[826.7,888.5]].forEach(p => option.graphic.push({type:'text', x:p[0], y:p[1], rotation:R, z:100, silent:true,
  style:{text:rate, rich:rateRich, align:'center', verticalAlign:'middle'}}));
[[142.5,131,'a)'],[489.5,128.5,'b)'],[852,129.5,'c)'],[132.5,437.5,'d)'],[488,433,'e)'],[850,437.5,'f)'],[132.5,754,'g)'],[489.5,751,'h)'],[847,753,'i)']]
  .forEach(p => option.graphic.push(txt(p[0], p[1], p[2], 22, {fontWeight:'bold'})));

const chart = echarts.init(document.getElementById('chart'), null, {renderer:'canvas'});
chart.setOption(option);
</script>
</body>
</html>
